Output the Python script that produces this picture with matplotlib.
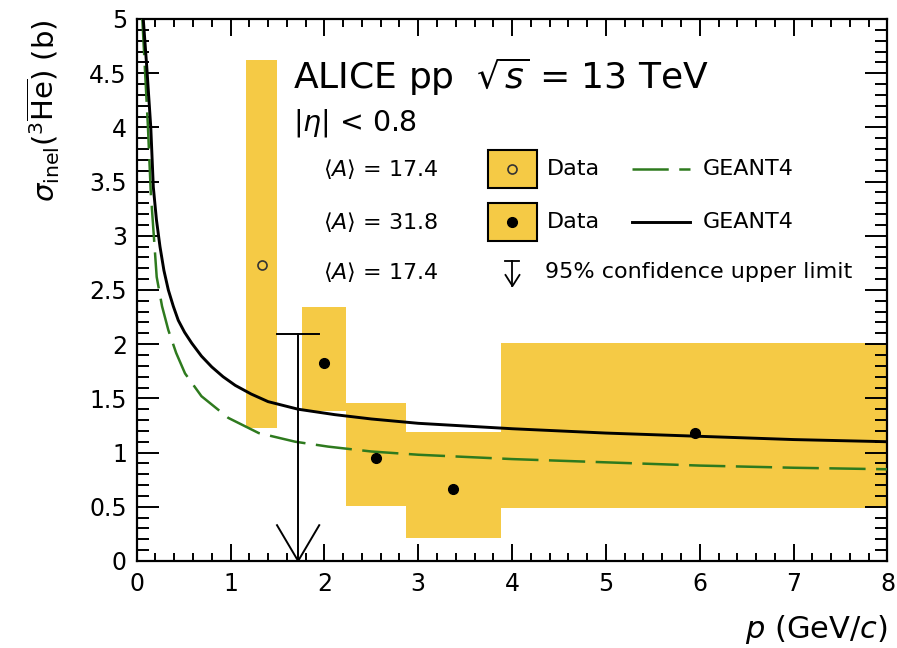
import numpy as np
import matplotlib.pyplot as plt
from matplotlib.lines import Line2D
from matplotlib.patches import Rectangle

plt.rcParams['font.family'] = 'DejaVu Sans'
plt.rcParams['mathtext.fontset'] = 'dejavusans'

yellow = '#f5ca45'
green = '#2e7a1e'

# GEANT4, <A> = 31.8 (solid)
p_g4_31 = [0.07, 0.107, 0.15, 0.177, 0.21, 0.248, 0.29, 0.337, 0.39, 0.443, 0.51,
           0.586, 0.69, 0.80, 0.92, 1.05, 1.22, 1.40, 1.72, 2.11, 2.5, 3.0, 3.5,
           4.0, 4.5, 5.0, 5.5, 6.0, 6.5, 7.0, 7.5, 8.0]
sig_g4_31 = [5.0, 4.56, 4.0, 3.45, 3.15, 2.90, 2.68, 2.50, 2.35, 2.22, 2.11,
             2.01, 1.89, 1.79, 1.70, 1.62, 1.54, 1.47, 1.40, 1.35, 1.31, 1.27, 1.245,
             1.22, 1.20, 1.18, 1.165, 1.15, 1.135, 1.12, 1.11, 1.10]
# GEANT4, <A> = 17.4 (dashed)
p_g4_17 = [0.06, 0.09, 0.12, 0.15, 0.213, 0.27, 0.337, 0.42, 0.515, 0.69, 0.976,
           1.30, 1.69, 2.04, 2.5, 3.0, 3.5, 4.0, 5.0, 6.0, 7.0, 8.0]
sig_g4_17 = [5.0, 4.5, 4.0, 3.4, 2.62, 2.35, 2.13, 1.92, 1.73, 1.52, 1.32,
             1.18, 1.10, 1.055, 1.01, 0.98, 0.96, 0.94, 0.91, 0.88, 0.86, 0.846]

# data, <A> = 17.4 (open point)
p_open = [1.33]
sig_open = [2.73]
box_open_lo = [1.163]
box_open_hi = [1.49]
box_open_ylo = [1.23]
box_open_yhi = [4.62]

# data, <A> = 31.8 (full points)
p_full = [2.0, 2.55, 3.375, 5.95]
sig_full = [1.83, 0.953, 0.667, 1.18]
box_full_lo = [1.76, 2.23, 2.87, 3.88]
box_full_hi = [2.23, 2.87, 3.88, 8.0]
box_full_ylo = [1.38, 0.51, 0.215, 0.49]
box_full_yhi = [2.34, 1.455, 1.19, 2.01]

# 95% CL upper limit
p_ul = 1.72
sig_ul = 2.09
ul_halfwidth = 0.225

fig = plt.figure(figsize=(8.97, 6.48), dpi=100)
ax = fig.add_axes([0.1524, 0.1343, 0.8370, 0.8364])

# systematic boxes
for lo, hi, ylo, yhi in zip(box_open_lo + box_full_lo, box_open_hi + box_full_hi,
                            box_open_ylo + box_full_ylo, box_open_yhi + box_full_yhi):
    ax.bar(lo, yhi - ylo, width=hi - lo, bottom=ylo, align='edge',
           color=yellow, edgecolor='none', zorder=1)

ax.plot(p_g4_17, sig_g4_17, color=green, lw=1.8, dashes=(14.5, 4.2), zorder=3)
ax.plot(p_g4_31, sig_g4_31, color='black', lw=2.1, zorder=3)

ax.plot(p_open, sig_open, 'o', mfc='none', mec='#333333', mew=1.2, ms=6.5, zorder=4)
ax.plot(p_full, sig_full, 'o', color='black', ms=7, zorder=4)

# upper limit arrow
ax.plot([p_ul - ul_halfwidth, p_ul + ul_halfwidth], [sig_ul, sig_ul], color='black', lw=1.4, zorder=4)
ax.plot([p_ul, p_ul], [sig_ul, 0], color='black', lw=1.4, zorder=4)
ax.plot([p_ul - ul_halfwidth, p_ul, p_ul + ul_halfwidth], [0.33, 0, 0.33],
        color='black', lw=1.4, zorder=4, clip_on=False)

ax.set_xlim(0, 8)
ax.set_ylim(0, 5)
ax.set_xticks(np.arange(0, 9, 1))
ax.set_xticks(np.arange(0, 8.01, 0.2), minor=True)
ax.set_yticks(np.arange(0, 5.01, 0.5))
ax.set_yticks(np.arange(0, 5.01, 0.1), minor=True)
ax.set_xticklabels(['0', '1', '2', '3', '4', '5', '6', '7', '8'])
ax.set_yticklabels(['0', '0.5', '1', '1.5', '2', '2.5', '3', '3.5', '4', '4.5', '5'])
ax.tick_params(axis='both', which='both', direction='in', top=True, right=True,
               width=1.4, labelsize=17)
ax.tick_params(axis='x', which='major', length=12, pad=8)
ax.tick_params(axis='x', which='minor', length=6)
ax.tick_params(axis='y', which='major', length=16, pad=7)
ax.tick_params(axis='y', which='minor', length=8.5)
for s in ax.spines.values():
    s.set_linewidth(1.6)

ax.set_xlabel(r'$p$ (GeV/$c$)', fontsize=22, loc='right', labelpad=12)
ax.set_ylabel(r'$\sigma_{\rm inel}(^{3}\overline{\rm He})$ (b)', fontsize=21,
              loc='top', labelpad=20)

# header
tr = ax.transAxes
def ax_xy(px, py):
    # figure pixel -> axes fraction
    return ((px - 136.7) / 750.8, (561.0 - py) / 542.0)

x0, y0 = ax_xy(293, 89)
ax.text(x0, y0, r'ALICE pp  $\sqrt{s}$ = 13 TeV', transform=tr, fontsize=26, va='baseline')
x0, y0 = ax_xy(293, 131)
ax.text(x0, y0, r'$|\eta|$ < 0.8', transform=tr, fontsize=20.5, va='baseline')

# legend
rows = [169, 222, 272]
for py, lab in zip(rows, ['17.4', '31.8', '17.4']):
    x0, y0 = ax_xy(323, py)
    ax.text(x0, y0, r'$\langle A\rangle$ = ' + lab, transform=tr, fontsize=16, va='center')

for py, filled in zip(rows[:2], [False, True]):
    bx0, by0 = ax_xy(488, py + 19)
    bx1, by1 = ax_xy(537, py - 19)
    ax.add_patch(Rectangle((bx0, by0), bx1 - bx0, by1 - by0, transform=tr,
                           facecolor=yellow, edgecolor='black', lw=1.5, zorder=5))
    cx, cy = ax_xy(512.5, py)
    if filled:
        ax.plot([cx], [cy], 'o', color='black', ms=7, transform=tr, zorder=6)
    else:
        ax.plot([cx], [cy], 'o', mfc='none', mec='#333333', mew=1.2, ms=6.5,
                transform=tr, zorder=6)
    tx, ty = ax_xy(547, py)
    ax.text(tx, ty, 'Data', transform=tr, fontsize=16, va='center')

lx0, ly = ax_xy(632, rows[0])
lx1, _ = ax_xy(690, rows[0])
ax.add_line(Line2D([lx0, lx1], [ly, ly], transform=tr, color=green, lw=1.8, dashes=(14.5, 4.2)))
lx0, ly = ax_xy(632, rows[1])
ax.add_line(Line2D([lx0, lx1], [ly, ly], transform=tr, color='black', lw=2.1))
for py in rows[:2]:
    tx, ty = ax_xy(703, py)
    ax.text(tx, ty, 'GEANT4', transform=tr, fontsize=16, va='center')

# upper limit legend symbol
ax_top = ax_xy(512.5, 261)
ax_bot = ax_xy(512.5, 286)
hw = 7 / 750.8
ax.add_line(Line2D([ax_top[0] - hw, ax_top[0] + hw], [ax_top[1]] * 2, transform=tr, color='black', lw=1.3))
ax.add_line(Line2D([ax_top[0], ax_top[0]], [ax_top[1], ax_bot[1]], transform=tr, color='black', lw=1.3))
head_y = ax_xy(0, 275)[1]
ax.add_line(Line2D([ax_top[0] - hw, ax_top[0], ax_top[0] + hw], [head_y, ax_bot[1], head_y],
                   transform=tr, color='black', lw=1.3))
tx, ty = ax_xy(545, rows[2])
ax.text(tx, ty, '95% confidence upper limit', transform=tr, fontsize=16, va='center')

fig.savefig('out.png', dpi=100)
